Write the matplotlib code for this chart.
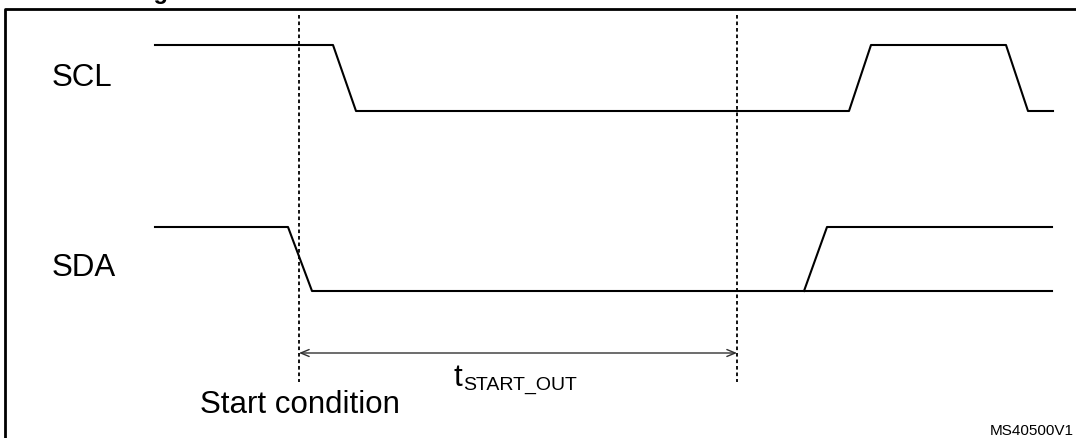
import matplotlib.pyplot as plt

plt.rcParams['font.family'] = ['Liberation Sans', 'DejaVu Sans']

# waveform breakpoints (time axis in picture units) and logic levels
scl_t = [155, 333, 356, 849, 871, 1006, 1028, 1053]
scl_lvl = [1, 1, 0, 0, 1, 1, 0, 0]

sda_t = [155, 288, 312, 1052]
sda_lvl = [1, 1, 0, 0]

# SDA released again later (both levels possible)
sda2_t = [804, 827, 1052]
sda2_lvl = [0, 1, 1]

# markers
start_x = 299
end_x = 737

# y for each signal: (high, low)
scl_y = (45, 111)
sda_y = (227, 291)


def to_y(levels, ys):
    return [ys[0] if v else ys[1] for v in levels]


fig = plt.figure(figsize=(10.76, 4.38), dpi=100)
ax = fig.add_axes([0, 0, 1, 1])
ax.set_xlim(0, 1076)
ax.set_ylim(438, 0)
ax.axis('off')

# frame
ax.plot([4.5, 4.5, 1076], [438, 9, 9], color='black', lw=2, solid_capstyle='butt')
# caption above the frame, mostly cut off
ax.text(169, -1, 'timing', ha='right', va='baseline', fontsize=17, fontweight='bold')

# signals
ax.plot(scl_t, to_y(scl_lvl, scl_y), color='black', lw=1.5)
ax.plot(sda_t, to_y(sda_lvl, sda_y), color='black', lw=1.5)
ax.plot(sda2_t, to_y(sda2_lvl, sda_y), color='black', lw=1.5)

# dotted reference lines
for x in (start_x, end_x):
    ax.plot([x, x], [15, 382], color='black', lw=1.3, linestyle=(0, (2, 1.6)))

# duration arrow
ax.annotate('', xy=(start_x, 353), xytext=(end_x, 353),
            arrowprops=dict(arrowstyle='<->,head_length=0.6,head_width=0.25',
                            color='#333333', lw=1, shrinkA=0, shrinkB=0))

ax.text(52, 78, 'SCL', fontsize=22.5, va='center', ha='left')
ax.text(52, 268, 'SDA', fontsize=22.5, va='center', ha='left')
ax.text(200, 405, 'Start condition', fontsize=22.5, va='center', ha='left')
ax.text(453, 386, 't', fontsize=22.5, va='baseline', ha='left')
ax.text(463.5, 389.5, 'START_OUT', fontsize=14, va='baseline', ha='left')
ax.text(1074, 431, 'MS40500V1', fontsize=11, va='center', ha='right')

fig.savefig('out.png', dpi=100)
